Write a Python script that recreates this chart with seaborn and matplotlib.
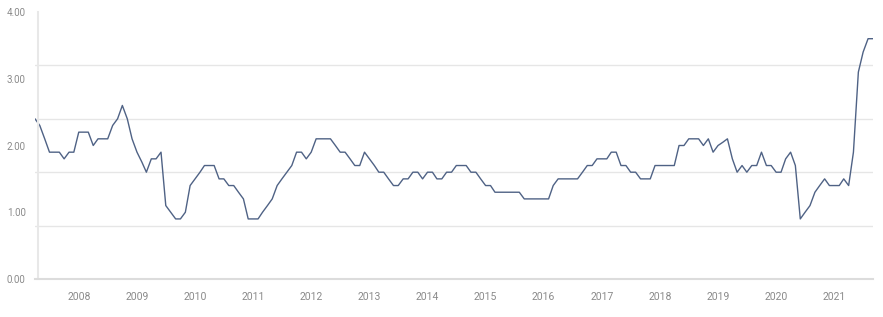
import numpy as np
import pandas as pd
import matplotlib
matplotlib.use("Agg")
import matplotlib.pyplot as plt
import matplotlib.dates as mdates
from matplotlib.transforms import ScaledTranslation
import seaborn as sns

# ---- data (monthly, starting April 2007) ----
start_month = "2007-04-01"
values = [
    2.4, 2.3, 2.1, 1.9, 1.9, 1.9, 1.8, 1.9, 1.9,              # 2007 Apr-Dec
    2.2, 2.2, 2.2, 2.0, 2.1, 2.1, 2.1, 2.3, 2.4, 2.6, 2.4, 2.1,  # 2008
    1.9, 1.75, 1.6, 1.8, 1.8, 1.9, 1.1, 1.0, 0.9, 0.9, 1.0, 1.4,  # 2009
    1.5, 1.6, 1.7, 1.7, 1.7, 1.5, 1.5, 1.4, 1.4, 1.3, 1.2, 0.9,  # 2010
    0.9, 0.9, 1.0, 1.1, 1.2, 1.4, 1.5, 1.6, 1.7, 1.9, 1.9, 1.8,  # 2011
    1.9, 2.1, 2.1, 2.1, 2.1, 2.0, 1.9, 1.9, 1.8, 1.7, 1.7, 1.9,  # 2012
    1.8, 1.7, 1.6, 1.6, 1.5, 1.4, 1.4, 1.5, 1.5, 1.6, 1.6, 1.5,  # 2013
    1.6, 1.6, 1.5, 1.5, 1.6, 1.6, 1.7, 1.7, 1.7, 1.6, 1.6, 1.5,  # 2014
    1.4, 1.4, 1.3, 1.3, 1.3, 1.3, 1.3, 1.3, 1.2, 1.2, 1.2, 1.2,  # 2015
    1.2, 1.2, 1.4, 1.5, 1.5, 1.5, 1.5, 1.5, 1.6, 1.7, 1.7, 1.8,  # 2016
    1.8, 1.8, 1.9, 1.9, 1.7, 1.7, 1.6, 1.6, 1.5, 1.5, 1.5, 1.7,  # 2017
    1.7, 1.7, 1.7, 1.7, 2.0, 2.0, 2.1, 2.1, 2.1, 2.0, 2.1, 1.9,  # 2018
    2.0, 2.05, 2.1, 1.8, 1.6, 1.7, 1.6, 1.7, 1.7, 1.9, 1.7, 1.7,  # 2019
    1.6, 1.6, 1.8, 1.9, 1.7, 0.9, 1.0, 1.1, 1.3, 1.4, 1.5, 1.4,  # 2020
    1.4, 1.4, 1.5, 1.4, 1.9, 3.1, 3.4, 3.6, 3.6,                # 2021 Jan-Sep
]
dates = pd.date_range(start_month, periods=len(values), freq="MS")
df = pd.DataFrame({"date": dates, "value": values})

year_ticks = list(range(2008, 2022))
y_label_ticks = [0, 1, 2, 3, 4]
y_grid_ticks = [0.0, 0.8, 1.6, 2.4, 3.2, 4.0]

# ---- style ----
sns.set_style("white")
plt.rcParams["font.family"] = ["Roboto", "DejaVu Sans"]

W, H, DPI = 883, 317, 100
fig = plt.figure(figsize=(W / DPI, H / DPI), dpi=DPI)
left, right, top, bottom = 35, 873, 12, 279
ax = fig.add_axes([left / W, (H - bottom) / H, (right - left) / W, (bottom - top) / H])

sns.lineplot(data=df, x="date", y="value", ax=ax, color="#4f6285", linewidth=1.0)

ax.set_xlim(dates[0], dates[-1])
ax.set_ylim(0, 4)

# grid lines on minor ticks (every 0.8), labels on majors (integers)
ax.set_yticks(y_grid_ticks, minor=True)
ax.set_yticks(y_label_ticks)
ax.set_yticklabels([f"{v:.2f}" for v in y_label_ticks])
ax.yaxis.grid(True, which="minor", color="#e6e6e6", linewidth=1.0)
ax.yaxis.grid(False, which="major")
ax.tick_params(axis="y", which="both", length=0, pad=8.5, labelsize=7, labelcolor="#8a8a8a")
for lab in ax.get_yticklabels():
    lab.set_transform(lab.get_transform() + ScaledTranslation(0, 2 / 72, fig.dpi_scale_trans))

ax.set_xticks([pd.Timestamp(f"{y}-01-01") for y in year_ticks])
ax.xaxis.set_major_formatter(mdates.DateFormatter("%Y"))
ax.tick_params(axis="x", length=3.6, width=0.8, color="#d0d0d0", pad=6,
               labelsize=7.5, labelcolor="#8a8a8a")

for s in ["top", "right"]:
    ax.spines[s].set_visible(False)
ax.spines["bottom"].set_color("#dcdcdc")
ax.spines["bottom"].set_linewidth(1.5)
ax.spines["left"].set_color("#e8e8e8")
ax.spines["left"].set_linewidth(1.5)
ax.spines["left"].set_position(("axes", 0.003))

ax.set_xlabel("")
ax.set_ylabel("")
ax.set_axisbelow(True)

fig.savefig("out.png", dpi=DPI)
